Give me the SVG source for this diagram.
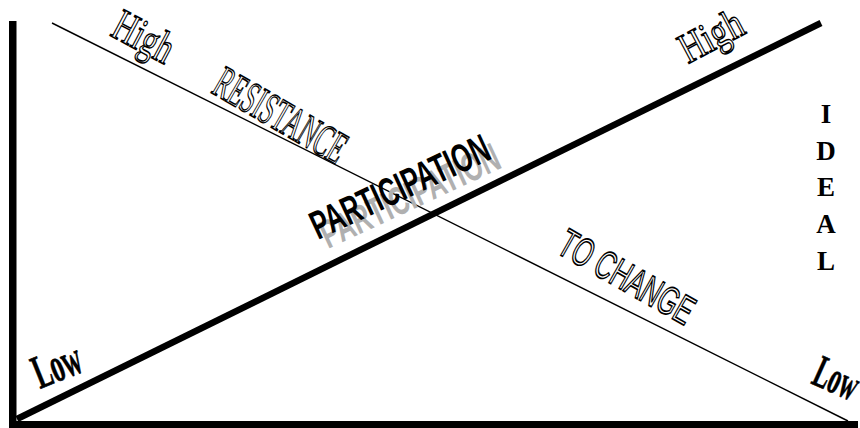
<svg xmlns="http://www.w3.org/2000/svg" width="860" height="428" viewBox="0 0 860 428">
<style>
.serifo{font-family:"Liberation Serif","Times New Roman",serif;fill:#fff;stroke:#000;stroke-width:1.5;}
.sanso{font-family:"Liberation Sans",Arial,sans-serif;fill:#fff;stroke:#000;stroke-width:1.7;}
.low{font-family:"Liberation Serif","Times New Roman",serif;font-weight:bold;fill:#000;stroke:#000;stroke-width:0.6;}
.part{font-family:"Liberation Sans",Arial,sans-serif;font-weight:bold;font-size:40px;}
.ideal{font-family:"Liberation Serif","Times New Roman",serif;font-weight:bold;font-size:27px;fill:#000;text-anchor:middle;}
</style>
<rect width="860" height="428" fill="#fff"/>
<g id="connectors">
<rect id="y-axis" x="9" y="21" width="7.5" height="407" fill="#000"/>
<rect id="x-axis" x="9" y="421" width="849" height="7" fill="#000"/>
<line id="participation-line" x1="17" y1="419" x2="821" y2="23" stroke="#000" stroke-width="6.5"/>
<line id="resistance-line" x1="52" y1="23" x2="848" y2="421" stroke="#000" stroke-width="1.5"/>
</g>
<g id="label-high-left"><text class="serifo" font-size="45" transform="translate(109,35) rotate(28) scale(0.7,1)">High</text></g>
<g id="label-resistance"><text class="serifo" font-size="46" transform="translate(210,92) rotate(30) scale(0.53,1)">RESISTANCE</text></g>
<g id="label-participation">
<text class="part" fill="#b0b0b0" transform="translate(328,249) rotate(-25) scale(0.64,1)">PARTICIPATION</text>
<text class="part" fill="#000" transform="translate(318,240) rotate(-25) scale(0.64,1)">PARTICIPATION</text>
</g>
<g id="label-high-right"><text class="serifo" font-size="43" transform="translate(688,64) rotate(-28) scale(0.78,1)">High</text></g>
<g id="label-to-change"><text class="sanso" font-size="40" transform="translate(555,252) rotate(29.6) scale(0.63,1)">TO CHANGE</text></g>
<g id="label-low-left"><text class="low" font-size="48" transform="translate(40,389) rotate(-22) scale(0.54,1)">Low</text></g>
<g id="label-low-right"><text class="low" font-size="46" transform="translate(810,383) rotate(24) scale(0.52,1)">Low</text></g>
<g id="label-ideal">
<text class="ideal" x="826" y="123">I</text>
<text class="ideal" x="826" y="160">D</text>
<text class="ideal" x="826" y="196">E</text>
<text class="ideal" x="826" y="233">A</text>
<text class="ideal" x="826" y="270">L</text>
</g>
</svg>
